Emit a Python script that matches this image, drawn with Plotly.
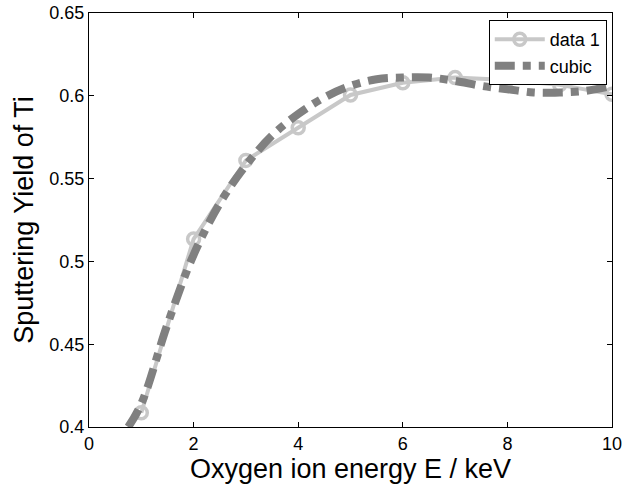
import plotly.graph_objects as go

# Data
energy = [1, 2, 3, 4, 5, 6, 7, 8, 9, 10]
yield_ti = [0.4086, 0.5135, 0.561, 0.5807, 0.6005, 0.6079, 0.611, 0.6095, 0.6066, 0.6009]

cubic_x = [0.75, 1, 1.5, 2, 2.5, 3, 3.5, 4, 4.5, 5, 5.5, 6, 6.5, 7, 7.5, 8, 8.5, 9, 9.5, 10]
cubic_y = [0.400, 0.414, 0.462, 0.504, 0.535, 0.558, 0.576, 0.589, 0.599, 0.606, 0.610,
           0.611, 0.611, 0.609, 0.606, 0.604, 0.602, 0.602, 0.603, 0.606]

x_ticks = [0, 2, 4, 6, 8, 10]
y_ticks = [0.4, 0.45, 0.5, 0.55, 0.6, 0.65]
y_tick_text = ["0.4", "0.45", "0.5", "0.55", "0.6", "0.65"]

fig = go.Figure()
fig.add_trace(go.Scatter(
    x=energy, y=yield_ti, name="data 1", mode="lines+markers",
    line=dict(color="#c8c8c8", width=4),
    marker=dict(symbol="circle-open", size=12, color="#c8c8c8", line=dict(width=3.5, color="#c8c8c8")),
))
fig.add_trace(go.Scatter(
    x=cubic_x, y=cubic_y, name="cubic", mode="lines",
    line=dict(color="#808080", width=8, dash="20px,8px,8px,8px", shape="spline"),
))

axis_common = dict(
    showgrid=False, zeroline=False, showline=True, linecolor="black", linewidth=1,
    mirror="ticks", ticks="inside", ticklen=5, tickcolor="black", automargin=False,
    tickfont=dict(family="Arial", size=18, color="black"),
)
fig.update_layout(
    width=623, height=486,
    margin=dict(l=89, r=11, t=13, b=59),
    plot_bgcolor="white", paper_bgcolor="white",
    font=dict(family="Arial", color="black"),
    showlegend=True,
    legend=dict(
        x=0.99, xanchor="right", y=0.983, yanchor="top",
        bordercolor="black", borderwidth=1, bgcolor="white",
        font=dict(family="Arial", size=18, color="black"),
        tracegroupgap=0, itemwidth=50,
    ),
    xaxis=dict(range=[0, 10], tickvals=x_ticks,
               title=dict(text="Oxygen ion energy E / keV", font=dict(size=27), standoff=1),
               **axis_common),
    yaxis=dict(range=[0.4, 0.65], tickvals=y_ticks, ticktext=y_tick_text,
               title=dict(text="Sputtering Yield of Ti", font=dict(size=27), standoff=7),
               **axis_common),
)
fig.write_html("out.html")
